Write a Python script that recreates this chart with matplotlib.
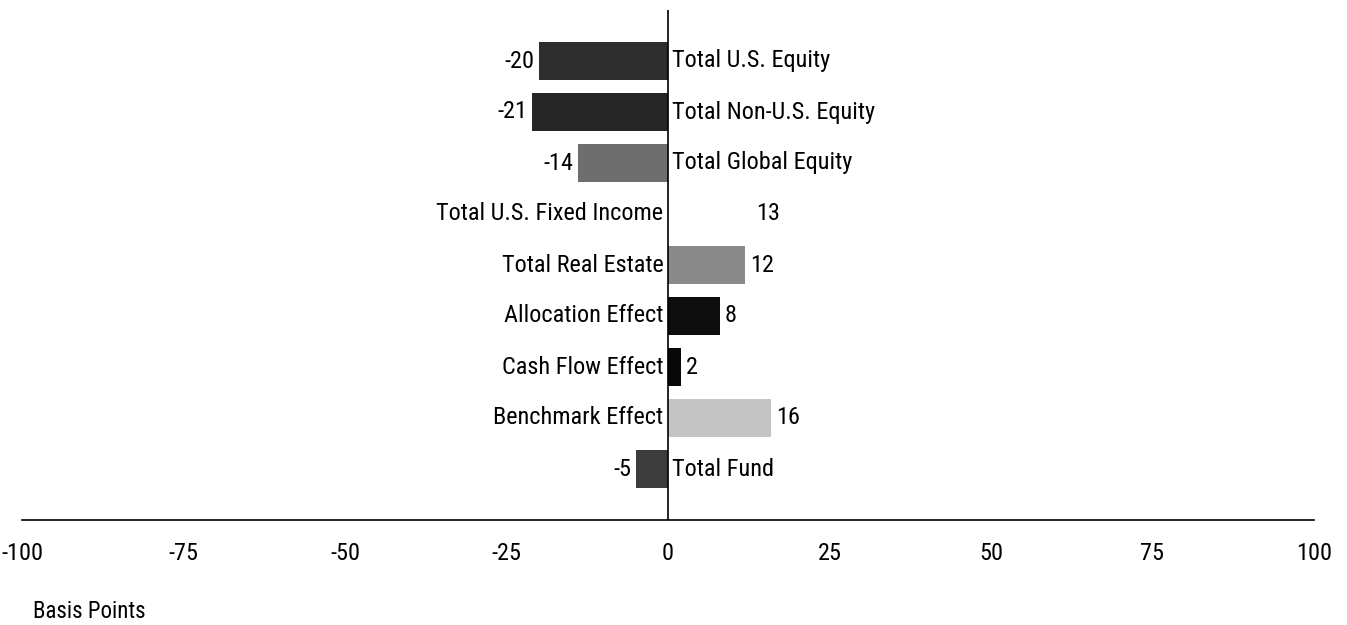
import matplotlib.pyplot as plt
from matplotlib import font_manager

categories = ['Total U.S. Equity', 'Total Non-U.S. Equity', 'Total Global Equity',
              'Total U.S. Fixed Income', 'Total Real Estate', 'Allocation Effect',
              'Cash Flow Effect', 'Benchmark Effect', 'Total Fund']
values = [-20, -21, -14, 13, 12, 8, 2, 16, -5]
bar_colors = ['#2e2e2e', '#262626', '#6e6e6e', '#ffffff', '#8a8a8a',
              '#0e0e0e', '#080808', '#c4c4c4', '#3c3c3c']
xticks = [-100, -75, -50, -25, 0, 25, 50, 75, 100]

# prefer a condensed face like the original, else plain Liberation Sans
names = {f.name for f in font_manager.fontManager.ttflist}
fam = 'DejaVu Sans'
for cand in ['Liberation Sans Narrow', 'Roboto Condensed', 'Open Sans Condensed', 'Liberation Sans']:
    if cand in names:
        fam = cand
        break
plt.rcParams['font.family'] = [fam, 'DejaVu Sans']

fig = plt.figure(figsize=(13.47, 6.25), dpi=100)
ax = fig.add_axes([0.0163, 0.168, 0.9592, 0.816])

pos = list(range(len(categories)))
ax.barh(pos, values, height=0.76, color=bar_colors, edgecolor='none')
ax.axvline(0, color='black', lw=1.2)

fs = 17.5
off = 0.7
for y, v, name in zip(pos, values, categories):
    if v < 0:
        ax.text(v - off, y, str(v), ha='right', va='center', fontsize=fs)
        ax.text(off, y, name, ha='left', va='center', fontsize=fs)
    else:
        ax.text(-off, y, name, ha='right', va='center', fontsize=fs)
        ax.text(v + off, y, str(v), ha='left', va='center', fontsize=fs)

ax.set_xlim(-100, 100)
ax.set_ylim(9, -1)
ax.set_xticks(xticks)
ax.set_xticklabels([str(t) for t in xticks], fontsize=fs)
ax.set_yticks([])
ax.tick_params(axis='x', length=0, pad=16)
for s in ['top', 'left', 'right']:
    ax.spines[s].set_visible(False)
ax.spines['bottom'].set_linewidth(1.2)

fig.text(0.0245, 0.0224, 'Basis Points', ha='left', va='center', fontsize=16.5)

fig.savefig('out.png', dpi=100)
